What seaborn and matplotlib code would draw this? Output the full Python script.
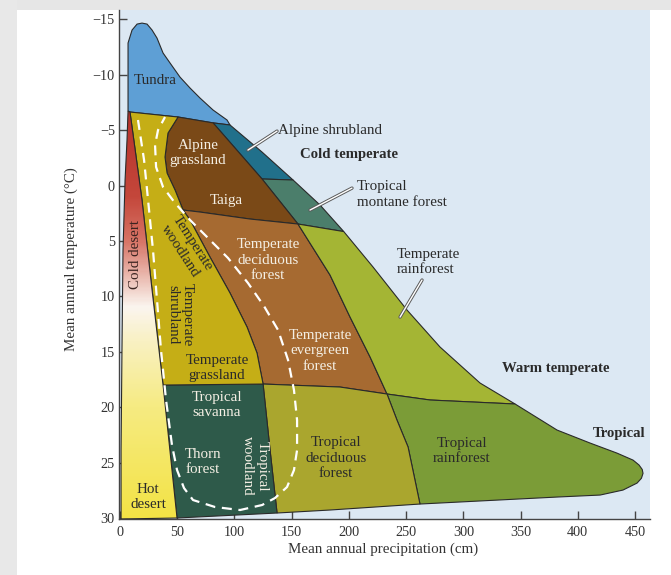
import numpy as np
import matplotlib
matplotlib.use("Agg")
import matplotlib.pyplot as plt
import seaborn as sns
from matplotlib.patches import Polygon, Rectangle
from matplotlib.colors import LinearSegmentedColormap, Normalize

# ---------------- data (precipitation cm, temperature degC) ----------------
TUNDRA = [(7.0, -12.85), (10.5, -14.02), (14.9, -14.56), (19.2, -14.65), (23.6, -14.56),
          (28.0, -14.02), (32.3, -13.30), (37.6, -11.95), (43.7, -11.05), (52.4, -9.78),
          (61.2, -8.79), (69.9, -7.89), (81.3, -6.81), (93.5, -5.91), (96.1, -5.46),
          (81.3, -5.65), (50.7, -6.18), (8.7, -6.63), (7.0, -6.72)]
ALPINE_SHRUB = [(81.3, -5.65), (96.1, -5.46), (124.1, -3.02), (151.2, -0.50), (124.1, -0.59)]
MONTANE = [(124.1, -0.59), (151.2, -0.50), (174.8, 1.76), (195.5, 4.15), (155.5, 3.47)]
ALPINE_TAIGA = [(50.7, -6.18), (81.3, -5.65), (124.1, -0.59), (155.5, 3.47), (113.6, 3.02),
                (69.9, 2.39), (55.1, 2.21), (48.1, 0.41), (41.1, -1.13), (39.3, -2.57), (41.9, -4.73)]
TEMP_FOREST = [(55.1, 2.21), (69.9, 2.39), (113.6, 3.02), (155.5, 3.47), (183.5, 8.07),
               (201.0, 11.86), (218.5, 15.46), (233.3, 18.80), (192.2, 18.17), (125.0, 17.90),
               (119.7, 15.10), (111.0, 12.76), (96.1, 9.69), (78.6, 6.45), (61.2, 3.11)]
TEMP_RAIN = [(155.5, 3.47), (195.5, 4.15), (221.1, 7.35), (250.8, 11.23), (279.6, 14.56),
             (314.6, 17.81), (345.2, 19.70), (270.9, 19.34), (233.3, 18.80), (218.5, 15.46),
             (201.0, 11.86), (183.5, 8.07)]
TROP_RAIN = [(345.2, 19.70), (381.9, 22.05), (410.7, 23.22), (434.3, 24.13), (448.3, 24.76),
             (453.5, 25.20), (456.3, 25.60), (457.0, 25.95), (455.6, 26.40), (451.8, 26.83),
             (439.5, 27.46), (419.5, 27.91), (381.9, 28.09),
             (262.1, 28.72), (251.7, 23.58), (242.0, 21.15), (233.3, 18.80), (270.9, 19.34)]
TROP_DEC = [(125.0, 17.90), (192.2, 18.17), (233.3, 18.80), (242.0, 21.15), (251.7, 23.58),
            (262.1, 28.72), (183.5, 29.26), (137.2, 29.53), (131.1, 23.85)]
SAVANNA = [(37.6, 17.99), (125.0, 17.90), (131.1, 23.85), (137.2, 29.53), (49.8, 29.98)]
WOODLAND = [(8.7, -6.63), (50.7, -6.18), (41.9, -4.73), (39.3, -2.57), (41.1, -1.13),
            (48.1, 0.41), (55.1, 2.21), (61.2, 3.11), (78.6, 6.45), (96.1, 9.69),
            (111.0, 12.76), (119.7, 15.10), (125.0, 17.90), (37.6, 17.99), (28.0, 9.42),
            (19.2, 1.31)]
DESERT = [(7.0, -6.72), (8.7, -6.63), (19.2, 1.31), (28.0, 9.42), (37.6, 17.99),
          (49.8, 29.98), (0.9, 30.07), (0.9, 23.85), (1.7, 14.83), (2.6, 5.82),
          (4.4, -0.50), (6.1, -4.10)]

# dashed woodland/shrubland envelope
DASH_P = [15.7, 21.0, 24.5, 28.8, 32.3, 35.8, 40.2, 45.4, 49.8, 55.9, 63.8, 83.0, 104.9,
          124.1, 135.4, 145.9, 152.0, 154.7, 154.7, 152.0, 146.8, 138.1, 125.8, 111.8,
          94.4, 76.9, 61.2, 48.1, 37.6, 31.5, 30.6, 33.2, 39.3]
DASH_T = [-5.91, -2.30, 1.31, 5.82, 10.32, 14.83, 19.34, 23.40, 25.65, 27.28, 28.36, 28.99,
          29.26, 28.81, 28.18, 27.19, 25.66, 23.85, 21.15, 18.44, 15.73, 13.03, 10.87,
          8.79, 6.54, 4.73, 3.11, 1.58, 0.14, -1.67, -3.65, -5.00, -6.18]

# leader lines
LEADERS = [([137.2, 111.8], [-4.91, -3.20]),
           ([202.7, 166.0], [0.23, 2.21]),
           ([263.9, 244.7], [8.52, 11.86])]

# desert colour ramp (temperature, colour)
DESERT_RAMP = [(-7.0, "#b5302a"), (1.0, "#c4473b"), (5.0, "#d77466"), (8.5, "#ecc0b6"),
               (11.0, "#fbf5ef"), (14.0, "#f9f1c4"), (20.0, "#f6eb82"), (30.1, "#f3e345")]

X_TICKS = [0, 50, 100, 150, 200, 250, 300, 350, 400, 450]
Y_TICKS = [-15, -10, -5, 0, 5, 10, 15, 20, 25, 30]

# ---------------- style ----------------
sns.set_theme(style="ticks")
plt.rcParams["font.family"] = ["Liberation Serif", "DejaVu Serif"]
plt.rcParams["axes.unicode_minus"] = True

W, H = 671, 575
fig = plt.figure(figsize=(W / 100, H / 100), dpi=100)
fig.patch.set_facecolor("white")
fig.patches.append(Rectangle((0, 1 - 10 / H), 1, 10 / H, transform=fig.transFigure,
                             facecolor="#e6e6e6", edgecolor="none", zorder=-10))
fig.patches.append(Rectangle((0, 0), 17 / W, 1, transform=fig.transFigure,
                             facecolor="#e8e8e8", edgecolor="none", zorder=-10))

ax = fig.add_axes([119 / W, 1 - 519 / H, (650 - 119) / W, (519 - 10) / H])
ax.set_facecolor("#dce8f3")

EDGE = "#2a2a2a"
fills = [
    (TUNDRA, "#5e9fd5"),
    (ALPINE_SHRUB, "#21708b"),
    (MONTANE, "#4b7e6b"),
    (ALPINE_TAIGA, "#7a4917"),
    (TEMP_FOREST, "#a66a31"),
    (TEMP_RAIN, "#a4b534"),
    (TROP_RAIN, "#7b9c37"),
    (TROP_DEC, "#aaa62e"),
    (SAVANNA, "#2e5a4a"),
    (WOODLAND, "#c5ae16"),
]
for poly, col in fills:
    xs, ys = zip(*poly)
    ax.fill(xs, ys, facecolor=col, edgecolor=EDGE, lw=0.8, zorder=2)

# desert with vertical gradient
pos = [(t - DESERT_RAMP[0][0]) / (DESERT_RAMP[-1][0] - DESERT_RAMP[0][0]) for t, _ in DESERT_RAMP]
cmap = LinearSegmentedColormap.from_list("desert", list(zip(pos, [c for _, c in DESERT_RAMP])))
grad = np.linspace(DESERT_RAMP[0][0], DESERT_RAMP[-1][0], 300).reshape(-1, 1)
im = ax.imshow(grad, extent=(0, 55, DESERT_RAMP[0][0], DESERT_RAMP[-1][0]), origin="lower",
               aspect="auto", cmap=cmap,
               norm=Normalize(DESERT_RAMP[0][0], DESERT_RAMP[-1][0]), zorder=2)
dpoly = Polygon(DESERT, closed=True, transform=ax.transData, facecolor="none")
im.set_clip_path(dpoly)
dx, dy = zip(*DESERT)
ax.fill(dx, dy, facecolor="none", edgecolor=EDGE, lw=0.8, zorder=3)

# dashed line
ax.plot(DASH_P, DASH_T, color="white", lw=1.6, dashes=(4.5, 3.0), zorder=5,
        solid_capstyle="butt", dash_capstyle="butt")

# leader lines
for lx, ly in LEADERS:
    sns.lineplot(x=lx, y=ly, sort=False, estimator=None, color="#5a5a5a", lw=2.4, ax=ax, zorder=6)
    sns.lineplot(x=lx, y=ly, sort=False, estimator=None, color="white", lw=1.0, ax=ax, zorder=7)

# ---------------- labels ----------------
DARK = "#2a2a2a"
LIGHT = "#f4efe4"
FS = 10.8
def lab(x, y, s, c=DARK, fs=FS, **kw):
    ax.text(x, y, s, color=c, fontsize=fs, ha=kw.pop("ha", "center"), va=kw.pop("va", "center"),
            linespacing=kw.pop("linespacing", 1.22), zorder=8, **kw)

lab(30.6, -9.5, "Tundra")
lab(68.2, -2.93, "Alpine\ngrassland", LIGHT)
lab(92.6, 1.31, "Taiga", LIGHT)
lab(129.3, 6.72, "Temperate\ndeciduous\nforest", LIGHT)
lab(174.8, 14.92, "Temperate\nevergreen\nforest", LIGHT)
lab(84.8, 16.46, "Temperate\ngrassland")
lab(84.8, 19.79, "Tropical\nsavanna", LIGHT)
lab(72.5, 24.93, "Thorn\nforest", LIGHT)
lab(118.0, 25.29, "Tropical\nwoodland", LIGHT, rotation=-90)
lab(188.7, 24.57, "Tropical\ndeciduous\nforest")
lab(298.8, 23.94, "Tropical\nrainforest")
lab(242.0, 6.9, "Temperate\nrainforest", ha="left")
lab(207.1, 0.81, "Tropical\nmontane forest", ha="left")
lab(138.1, -5.0, "Alpine shrubland", ha="left")
lab(157.3, -2.84, "Cold temperate", ha="left", fontweight="bold", fs=10.6)
lab(333.8, 16.46, "Warm temperate", ha="left", fontweight="bold", fs=10.6)
lab(413.3, 22.32, "Tropical", ha="left", fontweight="bold", fs=10.6)
lab(13.1, 6.18, "Cold desert", "#3a2320", rotation=90)
lab(57.7, 5.55, "Temperate\nwoodland", rotation=-57, rotation_mode="anchor")
lab(52.4, 11.68, "Temperate\nshrubland", rotation=-90)
lab(24.5, 28.09, "Hot\ndesert")

# ---------------- axes ----------------
ax.set_xlim(-0.9, 463.1)
ax.set_ylim(30.07, -15.83)
ax.set_xticks(X_TICKS)
ax.set_yticks(Y_TICKS)
ax.set_xticklabels([str(v) for v in X_TICKS])
ax.set_yticklabels([f"\u2212{abs(v)}" if v < 0 else str(v) for v in Y_TICKS])
ax.tick_params(direction="in", length=6, width=1.0, color="#444444",
               labelsize=10.3, labelcolor="#333333")
ax.tick_params(axis="x", pad=5)
ax.tick_params(axis="y", pad=3)
for side in ("top", "right"):
    ax.spines[side].set_visible(False)
for side in ("left", "bottom"):
    ax.spines[side].set_color("#444444")
    ax.spines[side].set_linewidth(1.0)
ax.grid(False)
ax.set_xlabel("Mean annual precipitation (cm)", fontsize=10.8, color="#333333")
ax.set_ylabel("Mean annual temperature (\u00b0C)", fontsize=10.8, color="#333333")
ax.xaxis.set_label_coords(0.497, -0.047)
ax.yaxis.set_label_coords(-0.078, 0.51)

fig.savefig("out.png", dpi=100)
